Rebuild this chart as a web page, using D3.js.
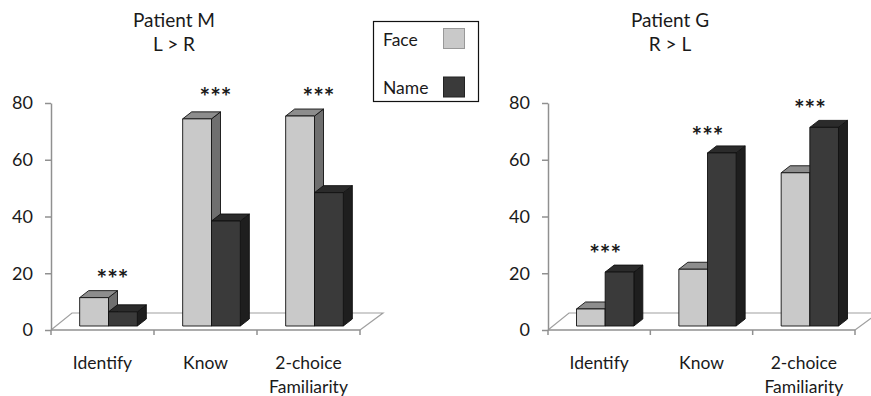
<!DOCTYPE html>
<html><head><meta charset="utf-8">
<script src="https://cdn.jsdelivr.net/npm/d3@7"></script>
<style>body{margin:0;background:#fff}svg{display:block}text{font-family:Lato,"Open Sans",sans-serif;fill:#1a1a1a}</style>
</head><body><svg id="c" width="871" height="396"></svg>
<script>
const categories = ["Identify", "Know", "2-choice Familiarity"];
const seriesNames = ["Face", "Name"];
const patientM_face = [10, 73, 74];
const patientM_name = [5, 37, 47];
const patientG_face = [6, 20, 54];
const patientG_name = [19, 61, 70];
const yTicks = [0, 20, 40, 60, 80];
const starsM = [19, 83, 83];
const starsG = [28, 69.5, 79];
const titlesM = ["Patient M", "L > R"];
const titlesG = ["Patient G", "R > L"];

const svg = d3.select("#c");
const colors = {
  Face: {front: "#c9c9c9", top: "#8d8d8d", side: "#6f6f6f"},
  Name: {front: "#3a3a3a", top: "#2b2b2b", side: "#1e1e1e"}
};
const DX = 9, DY = -7;          // bar depth
const FDX = 21, FDY = -17;      // floor depth
const FRONT_OFF = 4;            // bar front face above floor front edge

function chart(cfg) {
  const g = svg.append("g");
  const x = d3.scaleBand().domain(categories).range([cfg.x0, cfg.x1]);
  const y = d3.scaleLinear().domain([0, 80]).range([330, 103]);
  // floor
  g.append("path")
    .attr("d", `M${cfg.x0},${y(0)} L${cfg.x0+FDX},${y(0)+FDY} L${cfg.x1+FDX+2},${y(0)+FDY} L${cfg.x1},${y(0)}`)
    .attr("fill", "none").attr("stroke", "#a0a0a0").attr("stroke-width", 1.2);
  // y axis
  const ya = g.append("g").attr("transform", `translate(${cfg.x0},0)`)
    .call(d3.axisLeft(y).tickValues(yTicks).tickSize(6).tickSizeOuter(0).tickPadding(12));
  ya.select(".domain").attr("stroke", "#909090").attr("stroke-width", 1.5);
  ya.selectAll(".tick line").attr("stroke", "#909090").attr("stroke-width", 1.5);
  ya.selectAll(".tick text").style("font-family", "Lato, 'Open Sans', sans-serif").attr("font-size", 18).attr("fill", "#1a1a1a");
  // x axis
  g.append("line").attr("x1", cfg.x0).attr("x2", cfg.x1).attr("y1", y(0)).attr("y2", y(0))
    .attr("stroke", "#909090").attr("stroke-width", 1.5);
  const bounds = categories.map(c => x(c)).concat([cfg.x1]);
  g.selectAll(".xt").data(bounds).enter().append("line")
    .attr("x1", d => d).attr("x2", d => d).attr("y1", y(0)).attr("y2", y(0) + 5)
    .attr("stroke", "#909090").attr("stroke-width", 1.5);
  categories.forEach(c => {
    const t = g.append("text").attr("text-anchor", "middle").attr("font-size", 17.5)
      .attr("x", x(c) + x.bandwidth() / 2).attr("y", 369);
    c.split(" ").forEach((w, i) => t.append("tspan").attr("x", x(c) + x.bandwidth() / 2).attr("dy", i ? 24 : 0).text(w));
  });
  // bars
  const bw = x.bandwidth() * 0.28;
  categories.forEach((c, i) => {
    const cx = x(c) + x.bandwidth() / 2 + 6;
    [["Face", cfg.face[i]], ["Name", cfg.name[i]]].forEach(([s, v], j) => {
      const xl = cx - bw + j * bw, xr = xl + bw;
      const yb = y(0) - FRONT_OFF, yt = y(v) - FRONT_OFF;
      const col = colors[s];
      const st = {stroke: "#111", "stroke-width": 0.9, "stroke-linejoin": "round"};
      const side = g.append("path").attr("d", `M${xr},${yt} L${xr+DX},${yt+DY} L${xr+DX},${yb+DY} L${xr},${yb}Z`).attr("fill", col.side);
      const top = g.append("path").attr("d", `M${xl},${yt} L${xl+DX},${yt+DY} L${xr+DX},${yt+DY} L${xr},${yt}Z`).attr("fill", col.top);
      const front = g.append("rect").attr("x", xl).attr("y", yt).attr("width", bw).attr("height", yb - yt).attr("fill", col.front);
      [side, top, front].forEach(e => Object.entries(st).forEach(([k, val]) => e.attr(k, val)));
    });
    g.append("text").attr("text-anchor", "middle").attr("font-size", 25).attr("font-weight", "bold")
      .attr("x", cx + (cfg.starShift || 0)).attr("y", y(cfg.stars[i]) + 12).text("***");
  });
  // titles
  cfg.titles.forEach((t, i) => g.append("text").attr("text-anchor", "middle").attr("font-size", 19)
    .attr("x", cfg.tx).attr("y", 27 + i * 24).text(t));
}

chart({x0: 51, x1: 360, face: patientM_face, name: patientM_name, stars: starsM, titles: titlesM, tx: 174, starShift: 4});
chart({x0: 548, x1: 855, face: patientG_face, name: patientG_name, stars: starsG, titles: titlesG, tx: 670, starShift: 0});

// legend
const lg = svg.append("g");
lg.append("rect").attr("x", 373.5).attr("y", 21.5).attr("width", 105).attr("height", 80)
  .attr("fill", "#fff").attr("stroke", "#111").attr("stroke-width", 1.2);
seriesNames.forEach((s, i) => {
  lg.append("text").attr("x", 383).attr("y", 46 + i * 48).attr("font-size", 17.5).text(s);
  lg.append("rect").attr("x", 443.5).attr("y", 28.5 + i * 48.5).attr("width", 21).attr("height", 20)
    .attr("fill", colors[s].front).attr("stroke", i ? "#222" : "#999");
});
</script></body></html>
